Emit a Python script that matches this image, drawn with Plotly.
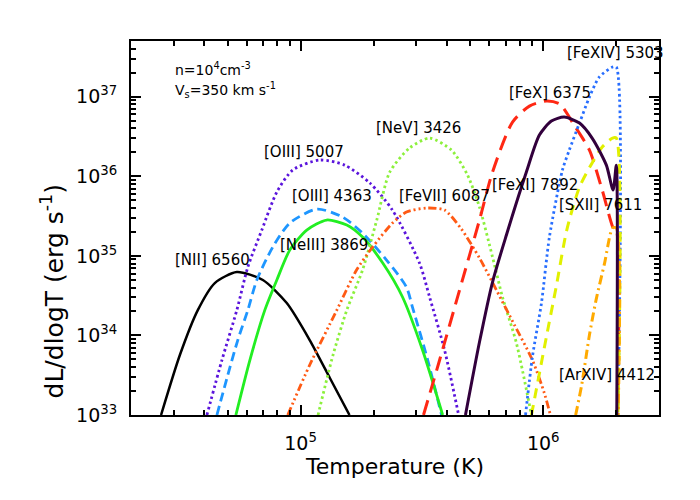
import plotly.graph_objects as go

# temperature (K) and dL/dlogT (erg/s)
T_MAX = 2.0e6
L_FLOOR = 1e32

T_NII = [2.66e4, 3.18e4, 3.77e4, 4.43e4, 5.46e4, 6.99e4, 8.77e4, 1.09e5, 1.32e5, 1.59e5]
L_NII = [1e33, 5.67e33, 2.08e34, 4.55e34, 6.26e34, 4.97e34, 2.55e34, 8.75e33, 2.92e33, 1e33]

T_OIII5007 = [4.11e4, 4.74e4, 5.46e4, 6.06e4, 6.92e4, 7.98e4, 9.28e4, 1.20e5, 1.52e5,
              1.93e5, 2.39e5, 3.09e5, 3.40e5, 3.92e5, 4.48e5]
L_OIII5007 = [1e33, 4.91e33, 2.08e34, 7.23e34, 2.11e35, 6.33e35, 1.20e36, 1.60e36, 1.38e36,
              8.22e35, 3.76e35, 8.12e34, 3.04e34, 6.55e33, 1e33]

T_OIII4363 = [4.52e4, 5.01e4, 5.51e4, 6.06e4, 6.60e4, 7.68e4, 9.02e4, 1.17e5, 1.49e5,
              1.80e5, 2.26e5, 2.73e5, 2.89e5, 3.34e5, 3.81e5]
L_OIII4363 = [1e33, 3.18e33, 8.75e33, 2.08e34, 4.97e34, 1.29e35, 2.58e35, 3.87e35, 3.07e35,
              1.93e35, 8.86e34, 4.05e34, 2.27e34, 4.91e33, 1e33]

T_NEIII = [5.41e4, 6.18e4, 7.12e4, 7.98e4, 9.02e4, 1.06e5, 1.28e5, 1.55e5, 1.80e5,
           2.18e5, 2.63e5, 3.18e5, 3.85e5]
L_NEIII = [1e33, 4.91e33, 2.08e34, 4.97e34, 1.18e35, 2.11e35, 2.82e35, 2.44e35, 1.72e35,
           8.12e34, 3.04e34, 6.55e33, 1e33]

T_NEV = [1.18e5, 1.36e5, 1.55e5, 1.80e5, 2.06e5, 2.33e5, 2.81e5, 3.40e5, 4.19e5, 4.87e5,
         5.46e5, 6.18e5, 6.79e5, 7.75e5, 8.94e5]
L_NEV = [1e33, 5.67e33, 2.08e34, 6.63e34, 2.82e35, 1.13e36, 2.26e36, 3.02e36, 2.13e36, 1.04e36,
         4.10e35, 9.66e34, 3.04e34, 8.03e33, 1e33]

T_FEVII = [8.85e4, 1.09e5, 1.41e5, 1.70e5, 1.98e5, 2.39e5, 2.73e5, 3.30e5, 3.92e5, 4.60e5,
           5.46e5, 6.41e5, 7.61e5, 9.02e5, 1.01e6, 1.07e6]
L_FEVII = [1e33, 4.25e33, 2.08e34, 6.63e34, 1.29e35, 2.58e35, 3.55e35, 3.99e35, 3.76e35, 2.17e35,
           9.38e34, 3.72e34, 1.35e34, 4.91e33, 1.89e33, 1e33]

T_FEX = [3.21e5, 3.74e5, 4.52e5, 5.46e5, 6.18e5, 7.47e5, 8.77e5, 1.03e6, 1.17e6, 1.34e6,
         1.55e6, 1.75e6, 1.96e6, T_MAX, T_MAX]
L_FEX = [1e33, 4.91e33, 3.72e34, 2.82e35, 1.13e36, 4.80e36, 7.62e36, 8.81e36, 8.07e36, 4.40e36,
         2.13e36, 6.71e35, 2.11e35, 2.11e35, L_FLOOR]

T_FEXI = [4.78e5, 5.46e5, 6.18e5, 7.05e5, 8.52e5, 9.64e5, 1.08e6, 1.22e6, 1.41e6, 1.59e6,
          1.82e6, 1.94e6, T_MAX, T_MAX]
L_FEXI = [1e33, 8.26e33, 4.69e34, 1.83e35, 1.13e36, 3.29e36, 4.94e36, 5.54e36, 4.66e36, 3.02e36,
          1.38e36, 6.71e35, 1.38e36, L_FLOOR]

T_FEXIV = [8.45e5, 9.02e5, 9.83e5, 1.06e6, 1.20e6, 1.28e6, 1.41e6, 1.55e6, 1.70e6, 1.93e6,
           T_MAX, T_MAX]
L_FEXIV = [1e33, 5.35e33, 2.55e34, 1.72e35, 1.20e36, 2.13e36, 4.66e36, 9.89e36, 1.76e37, 2.36e37,
           2.36e37, L_FLOOR]

T_SXII = [8.94e5, 1.03e6, 1.13e6, 1.25e6, 1.41e6, 1.59e6, 1.75e6, 1.93e6, T_MAX, T_MAX]
L_SXII = [1e33, 9.55e33, 4.05e34, 2.11e35, 7.31e35, 1.47e36, 2.33e36, 3.02e36, 3.02e36, L_FLOOR]

T_ARXIV = [1.36e6, 1.44e6, 1.55e6, 1.65e6, 1.79e6, 1.93e6, T_MAX, T_MAX]
L_ARXIV = [1e33, 2.38e33, 1.01e34, 2.78e34, 8.12e34, 2.24e35, 2.24e35, L_FLOOR]

FONT = "DejaVu Sans"

# FeXI last so its dark spike at T_max sits on top, like the original
curves = [
    (T_NII, L_NII, 'black', 'solid', 2.5),
    (T_OIII5007, L_OIII5007, '#5a14dc', '2.5px,3px', 2.8),
    (T_OIII4363, L_OIII4363, '#1e96ff', '9px,5px', 2.8),
    (T_NEIII, L_NEIII, '#22ee22', 'solid', 2.8),
    (T_NEV, L_NEV, '#8cf03c', '2.5px,3px', 2.8),
    (T_FEVII, L_FEVII, '#ff5a14', '8px,3px,2px,3px,2px,3px,2px,3px', 2.8),
    (T_FEX, L_FEX, '#ff2814', '15px,8px', 3),
    (T_FEXIV, L_FEXIV, '#286eff', '2.5px,3px', 2.8),
    (T_SXII, L_SXII, '#e1f000', '10px,7px', 3),
    (T_ARXIV, L_ARXIV, '#ffaa00', '9px,4px,2px,4px', 3),
    (T_FEXI, L_FEXI, '#32003c', 'solid', 3),
]

fig = go.Figure()
for t, l, color, dash, width in curves:
    fig.add_trace(go.Scatter(x = t, y = l, mode = 'lines',
                             line = dict(color = color, dash = dash, width = width,
                                         shape = 'spline', smoothing = 0.7),
                             showlegend = False))

# (text, x paper, y paper, size)
labels = [
    ('[NII] 6560', 0.080, 0.414, 15),
    ('[OIII] 5007', 0.248, 0.703, 15),
    ('[OIII] 4363', 0.301, 0.586, 15),
    ('[NeIII] 3869', 0.278, 0.455, 15),
    ('[NeV] 3426', 0.460, 0.767, 15),
    ('[FeVII] 6087', 0.504, 0.586, 15),
    ('[FeX] 6375', 0.712, 0.861, 15),
    ('[FeXI] 7892', 0.680, 0.615, 15),
    ('[FeXIV] 5303', 0.822, 0.968, 15),
    ('[SXII] 7611', 0.807, 0.561, 15),
    ('[ArXIV] 4412', 0.807, 0.107, 15),
    ('n=10<sup>4</sup>cm<sup>-3</sup>', 0.080, 0.925, 14),
    ('V<sub>s</sub>=350 km s<sup>-1</sup>', 0.080, 0.869, 14),
]
for text, xp, yp, size in labels:
    fig.add_annotation(text = text, x = xp, y = yp, xref = 'paper', yref = 'paper',
                       xanchor = 'left', yanchor = 'middle', showarrow = False,
                       font = dict(family = FONT, size = size, color = 'black'))

# y title as an annotation: in the original it sits lower than the axis centre
fig.add_annotation(text = 'dL/dlogT (erg s<sup>-1</sup>)', textangle = -90,
                   x = -0.148, y = 0.33, xref = 'paper', yref = 'paper',
                   xanchor = 'center', yanchor = 'middle', showarrow = False,
                   font = dict(family = FONT, size = 25, color = 'black'))

x_minor = [k * 10.0 ** e for e in (4, 5, 6) for k in range(2, 10) if 2e4 <= k * 10.0 ** e <= 3e6]
y_minor = [k * 10.0 ** e for e in range(33, 38) for k in range(2, 10)]

fig.update_xaxes(type = 'log', range = [4.301, 6.477],
                 tickmode = 'array', tickvals = [1e5, 1e6],
                 ticktext = ['10<sup>5</sup>', '10<sup>6</sup>'],
                 ticks = 'inside', ticklen = 10, tickwidth = 1.5, tickcolor = 'black',
                 minor = dict(tickmode = 'array', tickvals = x_minor, ticks = 'inside',
                              ticklen = 5, tickwidth = 1.5, tickcolor = 'black'),
                 showline = True, linewidth = 2, linecolor = 'black', mirror = 'ticks',
                 showgrid = False, zeroline = False, ticklabelstandoff = 10,
                 tickfont = dict(family = FONT, size = 19, color = 'black'),
                 title = dict(text = 'Temperature (K)', standoff = 6,
                              font = dict(family = FONT, size = 22, color = 'black')))

fig.update_yaxes(type = 'log', range = [33, 37.70],
                 tickmode = 'array', tickvals = [1e33, 1e34, 1e35, 1e36, 1e37],
                 ticktext = ['10<sup>%d</sup>' % e for e in range(33, 38)],
                 ticks = 'inside', ticklen = 10, tickwidth = 1.5, tickcolor = 'black',
                 minor = dict(tickmode = 'array', tickvals = y_minor, ticks = 'inside',
                              ticklen = 5, tickwidth = 1.5, tickcolor = 'black'),
                 showline = True, linewidth = 2, linecolor = 'black', mirror = 'ticks',
                 showgrid = False, zeroline = False, ticklabelstandoff = 8,
                 tickfont = dict(family = FONT, size = 19, color = 'black'))

# the page body adds an 8px offset, so margins are shifted to put the frame where the original has it
fig.update_layout(width = 700, height = 500,
                  paper_bgcolor = 'white', plot_bgcolor = 'white',
                  margin = {'l': 123, 'r': 49, 't': 33, 'b': 93})

fig.write_html("out.html")
